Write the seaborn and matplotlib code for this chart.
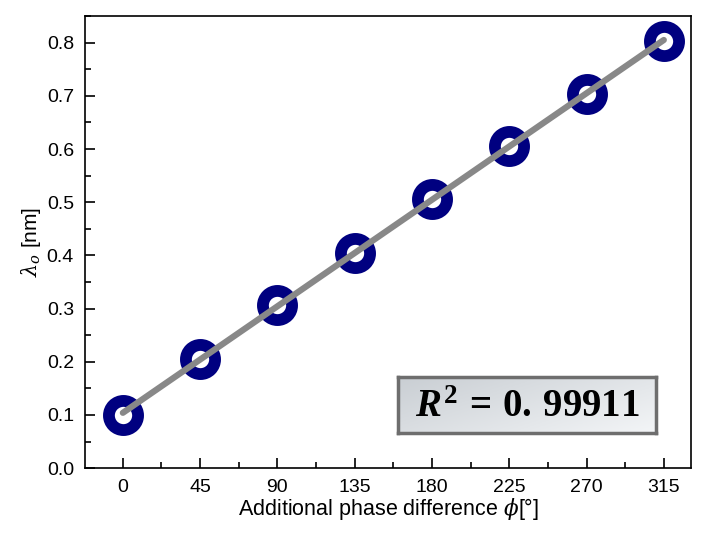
import numpy as np
import pandas as pd
import seaborn as sns
import matplotlib.pyplot as plt
from matplotlib.ticker import MultipleLocator
from matplotlib.colors import LinearSegmentedColormap

# data
phase = [0, 45, 90, 135, 180, 225, 270, 315]
lam0 = [0.100, 0.206, 0.306, 0.405, 0.506, 0.606, 0.704, 0.803]
r2_text = r'$R^2\,=\,0.\,99911$'

df = pd.DataFrame({'phase': phase, 'lam0': lam0})

sns.set_style("ticks")
plt.rcParams['font.family'] = ['Liberation Sans', 'DejaVu Sans']
plt.rcParams['text.color'] = 'black'
plt.rcParams['axes.labelcolor'] = 'black'
plt.rcParams['xtick.color'] = 'black'
plt.rcParams['ytick.color'] = 'black'
plt.rcParams['mathtext.fontset'] = 'custom'
plt.rcParams['mathtext.rm'] = 'Liberation Serif:bold'
plt.rcParams['mathtext.it'] = 'Liberation Serif:italic:bold'
plt.rcParams['mathtext.bf'] = 'Liberation Serif:bold'

fig = plt.figure(figsize=(7.09, 5.35), dpi=100)
ax = fig.add_axes([0.12, 0.125, 0.855, 0.845])

sns.scatterplot(data=df, x='phase', y='lam0', ax=ax, s=440, marker='o',
                facecolor='white', edgecolor='#000080', linewidth=8.5, zorder=3)
sns.regplot(data=df, x='phase', y='lam0', ax=ax, scatter=False, ci=None,
            line_kws={'color': '#888888', 'linewidth': 4.5, 'zorder': 4})

ax.set_xlim(-22, 331)
ax.set_ylim(0, 0.85)
ax.set_xticks(phase)
ax.xaxis.set_minor_locator(MultipleLocator(22.5))
ax.set_yticks(np.round(np.arange(0, 0.81, 0.1), 1))
ax.yaxis.set_minor_locator(MultipleLocator(0.05))
ax.tick_params(which='major', direction='in', length=7, width=1.2, labelsize=14,
               top=False, right=False, pad=8)
ax.tick_params(which='minor', direction='in', length=4, width=1.2, top=False, right=False)
for sp in ax.spines.values():
    sp.set_linewidth(1.2)
    sp.set_color('black')

ax.set_xlabel(r'Additional phase difference $\phi$[°]', fontsize=15.5, labelpad=0,
              math_fontfamily='dejavuserif')
ax.set_ylabel(r'$\lambda_o$ [nm]', fontsize=15, labelpad=3,
              math_fontfamily='dejavuserif')

# R^2 box with a light gradient
box = ax.inset_axes([0.516, 0.077, 0.426, 0.124])
cmap = LinearSegmentedColormap.from_list('box', ['#c9ced3', '#f3f5f7'])
gx, gy = np.meshgrid(np.linspace(0, 1, 256), np.linspace(0, 1, 32))
img = 0.6 * gx + 0.4 * gy
box.imshow(img, cmap=cmap, vmin=0, vmax=1, aspect='auto', extent=[0, 1, 0, 1])
box.set_xticks([])
box.set_yticks([])
for sp in box.spines.values():
    sp.set_linewidth(2.5)
    sp.set_color('#6e6e6e')
box.text(0.5, 0.47, r2_text, fontsize=28, ha='center', va='center',
         transform=box.transAxes)

plt.savefig('out.png', dpi=100)
